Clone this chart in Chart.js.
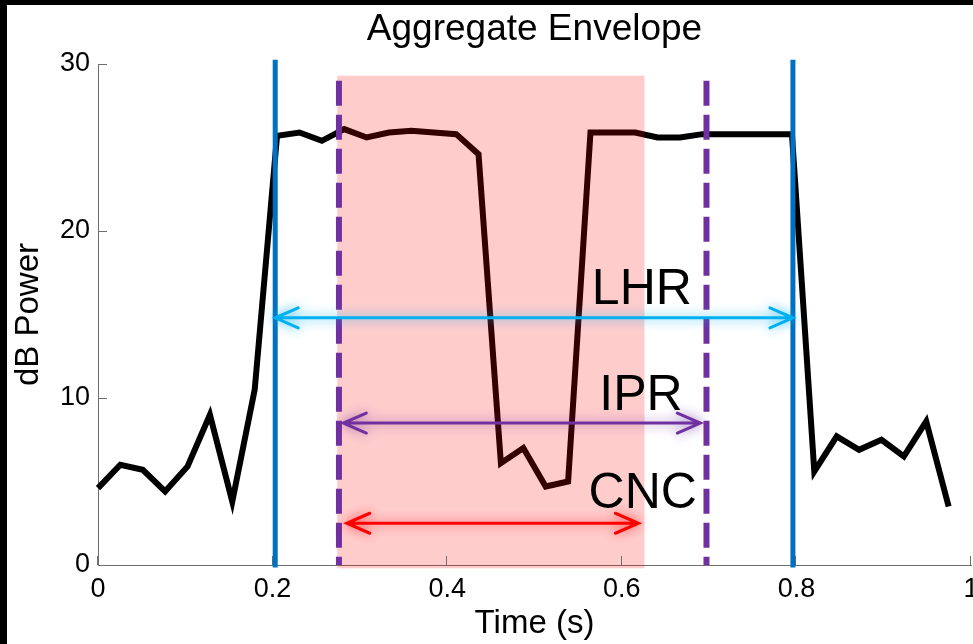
<!DOCTYPE html>
<html><head><meta charset="utf-8">
<script src="https://cdn.jsdelivr.net/npm/chart.js@4"></script>
<style>
html,body{margin:0;padding:0;background:#000;overflow:hidden;width:973px;height:644px;}
#wrap{position:absolute;left:7px;top:5px;width:1000px;height:639px;background:#fff;}
canvas{display:block;}
</style></head><body>
<div id="wrap"><canvas id="c" width="1000" height="639"></canvas></div>
<script>
// ---- data ----
const timeSec = [0, 0.0256, 0.0513, 0.0769, 0.1026, 0.1282, 0.1538, 0.1795, 0.2051, 0.2308,
  0.2564, 0.2821, 0.3077, 0.3333, 0.3590, 0.3846, 0.4103, 0.4359, 0.4615, 0.4872,
  0.5128, 0.5385, 0.5641, 0.5897, 0.6154, 0.6410, 0.6667, 0.6923, 0.7179, 0.7436,
  0.7692, 0.7949, 0.8205, 0.8462, 0.8718, 0.8974, 0.9231, 0.9487, 0.9744];
const dbPower = [4.6, 6.0, 5.7, 4.4, 5.9, 9.0, 3.8, 10.5, 25.7, 25.9,
  25.4, 26.1, 25.6, 25.9, 26.0, 25.9, 25.8, 24.6, 6.1, 7.0,
  4.7, 5.0, 25.9, 25.9, 25.9, 25.6, 25.6, 25.8, 25.8, 25.8,
  25.8, 25.8, 5.6, 7.7, 6.9, 7.5, 6.5, 8.6, 3.5];
const xTickValues = [0, 0.2, 0.4, 0.6, 0.8, 1];
const xTickLabels = ['0', '0.2', '0.4', '0.6', '0.8', '1'];
const yTickValues = [0, 10, 20, 30];
const yTickLabels = ['0', '10', '20', '30'];
const lhrBounds = [0.203, 0.796];      // solid blue markers
const iprBounds = [0.276, 0.697];      // dashed purple markers
const cncBand = [0.274, 0.626];        // shaded band (time)
const cncBandLevels = [-0.2, 29.3];    // shaded band (dB)
const rangeNames = ['LHR', 'IPR', 'CNC'];
const rangeStart = [0.203, 0.281, 0.285];
const rangeEnd = [0.796, 0.690, 0.619];
const rangeLevel = [14.8, 8.5, 2.5];
const labelTime = [0.623, 0.622, 0.624];
const labelLevel = [15.6, 9.3, 3.4];

// ---- styles ----
const FONT = "'Liberation Sans', Arial, Helvetica, sans-serif";
const AXIS = '#6e6e6e';
const rangeColors = ['#00B0F0', '#7030A0', '#FF0000'];
const rangeGlow = ['rgba(0,176,240,0.8)', 'rgba(112,48,160,0.65)', 'rgba(255,0,0,0.65)'];

const overlay = {
  id: 'overlay',
  afterDatasetsDraw(chart) {
    const {ctx, chartArea: a, scales: {x, y}} = chart;
    ctx.save();
    // shaded band over the trace
    ctx.fillStyle = 'rgba(255,0,0,0.2)';
    const bx0 = x.getPixelForValue(cncBand[0]), bx1 = x.getPixelForValue(cncBand[1]);
    const by0 = y.getPixelForValue(cncBandLevels[1]), by1 = y.getPixelForValue(cncBandLevels[0]);
    ctx.fillRect(bx0, by0, bx1 - bx0, by1 - by0);
    // tick marks (inward)
    ctx.strokeStyle = AXIS; ctx.lineWidth = 1;
    ctx.beginPath();
    yTickValues.forEach(v => { const py = Math.round(y.getPixelForValue(v)) + 0.5; ctx.moveTo(a.left, py); ctx.lineTo(a.left + 9, py); });
    xTickValues.forEach(v => { const px = Math.round(x.getPixelForValue(v)) - 0.5; ctx.moveTo(px, a.bottom); ctx.lineTo(px, a.bottom - 9); });
    ctx.stroke();
    // solid blue markers
    ctx.strokeStyle = '#0070C0'; ctx.lineWidth = 5;
    lhrBounds.forEach(t => { const px = x.getPixelForValue(t); ctx.beginPath(); ctx.moveTo(px, y.getPixelForValue(30.25)); ctx.lineTo(px, y.getPixelForValue(-0.15)); ctx.stroke(); });
    // dashed purple markers
    ctx.strokeStyle = '#7030A0'; ctx.lineWidth = 6; ctx.setLineDash([25, 9]);
    iprBounds.forEach(t => { const px = x.getPixelForValue(t); ctx.beginPath(); ctx.moveTo(px, y.getPixelForValue(29.0)); ctx.lineTo(px, y.getPixelForValue(0)); ctx.stroke(); });
    ctx.setLineDash([]);
    // double arrows
    rangeNames.forEach((n, i) => {
      const x0 = x.getPixelForValue(rangeStart[i]), x1 = x.getPixelForValue(rangeEnd[i]);
      const py = y.getPixelForValue(rangeLevel[i]);
      ctx.save();
      ctx.shadowColor = rangeGlow[i]; ctx.shadowBlur = 12;
      ctx.strokeStyle = rangeColors[i]; ctx.lineWidth = 3; ctx.lineCap = 'round';
      ctx.beginPath();
      ctx.moveTo(x0, py); ctx.lineTo(x1, py);
      ctx.moveTo(x0 + 23, py - 10); ctx.lineTo(x0, py); ctx.lineTo(x0 + 23, py + 10);
      ctx.moveTo(x1 - 23, py - 10); ctx.lineTo(x1, py); ctx.lineTo(x1 - 23, py + 10);
      ctx.stroke();
      ctx.restore();
    });
    // range labels
    ctx.fillStyle = '#000'; ctx.font = '50px ' + FONT; ctx.textAlign = 'center'; ctx.textBaseline = 'alphabetic';
    rangeNames.forEach((n, i) => ctx.fillText(n, x.getPixelForValue(labelTime[i]), y.getPixelForValue(labelLevel[i])));
    ctx.restore();
  }
};

new Chart(document.getElementById('c'), {
  type: 'line',
  data: {
    datasets: [{
      data: timeSec.map((t, i) => ({x: t, y: dbPower[i]})),
      borderColor: '#000', borderWidth: 6, pointRadius: 0, tension: 0, fill: false, clip: false
    }]
  },
  options: {
    responsive: false, animation: false, devicePixelRatio: 1,
    layout: {padding: {left: 0, right: 36, top: 0, bottom: 0}},
    plugins: {
      legend: {display: false}, tooltip: {enabled: false},
      title: {display: true, text: 'Aggregate Envelope', fullSize: false, color: '#000',
        font: {family: FONT, size: 37, weight: 'normal', lineHeight: 1.2}, padding: {top: 3, bottom: 11.6}}
    },
    scales: {
      x: {
        type: 'linear', min: 0, max: 1,
        afterBuildTicks: s => { s.ticks = xTickValues.map(v => ({value: v})); },
        afterFit: s => { s.height = 79; },
        grid: {display: false, drawTicks: false},
        border: {display: true, color: AXIS, width: 1},
        ticks: {color: '#000', padding: 8, maxRotation: 0, autoSkip: false, font: {family: FONT, size: 27},
          callback: (v, i) => xTickLabels[i]},
        title: {display: true, text: 'Time (s)', color: '#000', font: {family: FONT, size: 33, lineHeight: 1.2}, padding: {top: 0, bottom: 0}}
      },
      y: {
        type: 'linear', min: 0, max: 30,
        afterBuildTicks: s => { s.ticks = yTickValues.map(v => ({value: v})); },
        afterFit: s => { s.width = 91; },
        grid: {display: false, drawTicks: false},
        border: {display: true, color: AXIS, width: 1},
        ticks: {color: '#000', padding: 8, font: {family: FONT, size: 27}, callback: (v, i) => yTickLabels[i]},
        title: {display: true, text: 'dB Power', color: '#000', font: {family: FONT, size: 33, lineHeight: 1.2}, padding: {top: 2, bottom: 0}}
      }
    }
  },
  plugins: [overlay]
});
</script>
</body></html>
